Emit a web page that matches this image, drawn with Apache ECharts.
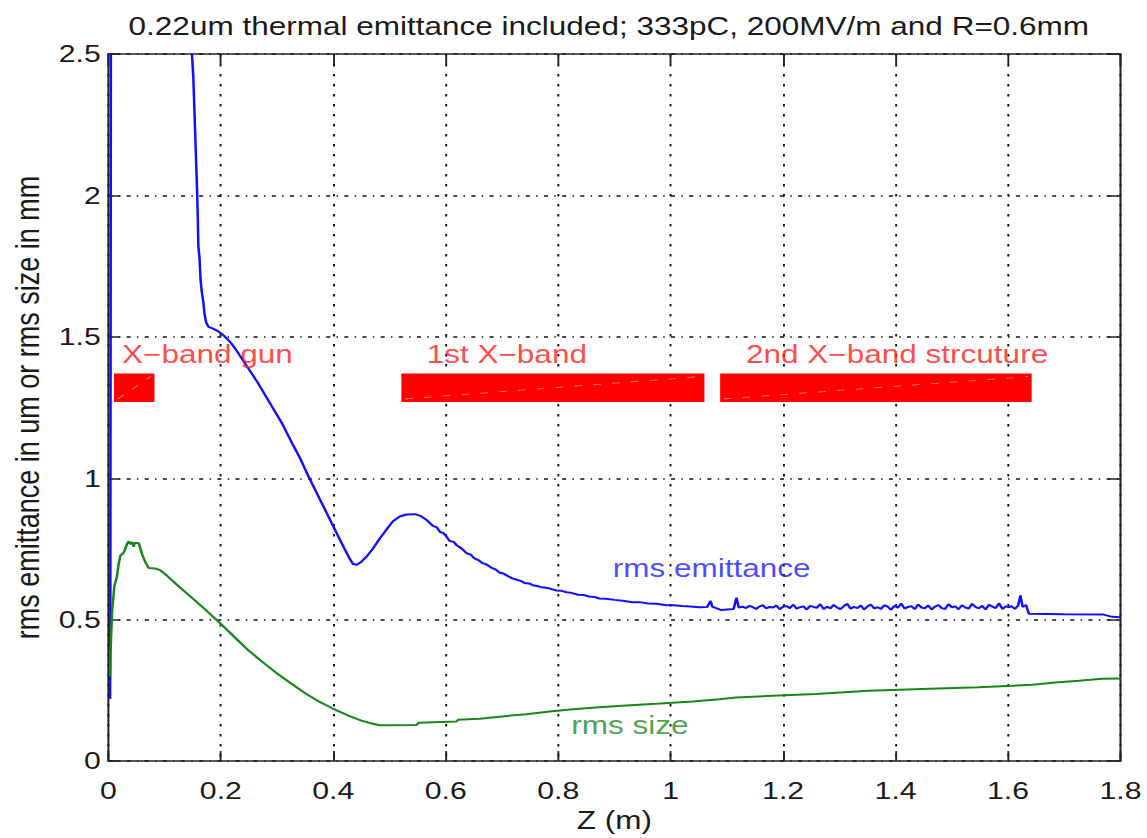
<!DOCTYPE html>
<html>
<head>
<meta charset="utf-8">
<script src="https://cdn.jsdelivr.net/npm/echarts@6/dist/echarts.min.js"></script>
<style>
  html, body { margin: 0; padding: 0; background: #fff; overflow: hidden; }
  /* the figure is laid out narrow and widened as a whole, like the printed plot */
  #chart { width: 910px; height: 838px; transform: scaleX(1.2604); transform-origin: 0 0; }
</style>
</head>
<body>
<div id="chart"></div>
<script>
// rms emittance (um) along z (m); values above 2.5 run off the top of the axes
const emitZ = [0.003, 0.0035, 0.004, 0.005, 0.04, 0.10, 0.14, 0.148, 0.151, 0.153, 0.155, 0.157, 0.158, 0.159, 0.160, 0.162, 0.164, 0.166, 0.169, 0.171, 0.174, 0.178, 0.185, 0.195, 0.205, 0.215, 0.225, 0.235, 0.245, 0.255, 0.265, 0.28, 0.295, 0.31, 0.325, 0.34, 0.355, 0.37, 0.385, 0.40, 0.41, 0.42, 0.428, 0.435, 0.442, 0.45, 0.46, 0.47, 0.482, 0.495, 0.506, 0.518, 0.53, 0.545, 0.556, 0.566, 0.577, 0.584, 0.59, 0.596, 0.60, 0.607, 0.614, 0.62, 0.628, 0.637, 0.644, 0.65, 0.658, 0.665, 0.672, 0.68, 0.688, 0.696, 0.703, 0.71, 0.718, 0.725, 0.733, 0.74, 0.748, 0.755, 0.762, 0.77, 0.778, 0.785, 0.797, 0.806, 0.815, 0.825, 0.835, 0.845, 0.855, 0.865, 0.873, 0.885, 0.90, 0.915, 0.932, 0.945, 0.96, 0.975, 0.992, 1.005, 1.02, 1.035, 1.051, 1.065, 1.071, 1.074, 1.09, 1.10, 1.112, 1.117, 1.121,
  1.128, 1.134, 1.140, 1.146, 1.152, 1.158, 1.164, 1.170, 1.176, 1.182,
  1.188, 1.194, 1.200, 1.206, 1.212, 1.218, 1.224, 1.230, 1.236, 1.242,
  1.248, 1.254, 1.260, 1.266, 1.272, 1.278, 1.284, 1.290, 1.296, 1.302,
  1.308, 1.314, 1.320, 1.326, 1.332, 1.338, 1.344, 1.350, 1.356, 1.362,
  1.368, 1.374, 1.380, 1.386, 1.392, 1.398, 1.404, 1.410, 1.416, 1.422,
  1.428, 1.434, 1.440, 1.446, 1.452, 1.458, 1.464, 1.470, 1.476, 1.482,
  1.488, 1.494, 1.500, 1.506, 1.512, 1.518, 1.524, 1.530, 1.536, 1.542,
  1.548, 1.554, 1.560, 1.566, 1.572, 1.578, 1.584, 1.590, 1.596, 1.602,
  1.606, 1.612, 1.618, 1.622, 1.626, 1.632, 1.637, 1.700, 1.770, 1.785, 1.800];
const emitV = [0.22, 0.60, 1.60, 4.00, 6.00, 4.20, 2.80, 2.52, 2.42, 2.30, 2.18, 2.06, 2.00, 1.92, 1.82, 1.78, 1.70, 1.66, 1.62, 1.58, 1.55, 1.535, 1.53, 1.52, 1.505, 1.485, 1.46, 1.43, 1.40, 1.37, 1.34, 1.29, 1.24, 1.19, 1.13, 1.075, 1.01, 0.95, 0.89, 0.83, 0.79, 0.75, 0.72, 0.697, 0.694, 0.705, 0.725, 0.75, 0.785, 0.82, 0.848, 0.865, 0.872, 0.873, 0.866, 0.852, 0.832, 0.826, 0.81, 0.806, 0.797, 0.778, 0.775, 0.762, 0.752, 0.735, 0.731, 0.718, 0.711, 0.70, 0.696, 0.685, 0.678, 0.666, 0.663, 0.655, 0.646, 0.642, 0.637, 0.63, 0.628, 0.622, 0.619, 0.615, 0.613, 0.61, 0.603, 0.602, 0.597, 0.594, 0.588, 0.587, 0.582, 0.580, 0.575, 0.574, 0.57, 0.567, 0.562, 0.562, 0.557, 0.556, 0.551, 0.551, 0.548, 0.547, 0.544, 0.545, 0.566, 0.546, 0.534, 0.536, 0.538, 0.578, 0.543,
  0.546, 0.541, 0.549, 0.544, 0.538, 0.547, 0.551, 0.540, 0.545, 0.543,
  0.550, 0.537, 0.546, 0.548, 0.541, 0.553, 0.539, 0.544, 0.547, 0.536,
  0.549, 0.545, 0.542, 0.555, 0.538, 0.546, 0.540, 0.552, 0.543, 0.537,
  0.548, 0.556, 0.539, 0.545, 0.541, 0.550, 0.536, 0.547, 0.553, 0.540,
  0.544, 0.538, 0.551, 0.546, 0.535, 0.549, 0.542, 0.557, 0.539, 0.545,
  0.548, 0.537, 0.554, 0.543, 0.540, 0.550, 0.536, 0.546, 0.552, 0.541,
  0.538, 0.555, 0.544, 0.547, 0.537, 0.551, 0.543, 0.539, 0.556, 0.545,
  0.540, 0.549, 0.536, 0.553, 0.546, 0.541, 0.558, 0.538, 0.547, 0.544,
  0.548, 0.538, 0.550, 0.586, 0.545, 0.552, 0.521, 0.519, 0.518, 0.510, 0.509];

// rms beam size (mm) along z (m)
const sizeZ = [0.003, 0.0035, 0.0066, 0.0107, 0.015, 0.0183, 0.0213, 0.0272, 0.0331, 0.036, 0.039, 0.042, 0.045, 0.047, 0.054, 0.0597, 0.0657, 0.0716, 0.083, 0.092, 0.104, 0.12, 0.14, 0.17, 0.20, 0.225, 0.25, 0.275, 0.30, 0.325, 0.35, 0.375, 0.40, 0.43, 0.45, 0.47, 0.483, 0.548, 0.552, 0.619, 0.622, 0.66, 0.70, 0.743, 0.785, 0.826, 0.873, 0.921, 0.974, 1.039, 1.086, 1.116, 1.181, 1.258, 1.353, 1.447, 1.548, 1.643, 1.684, 1.726, 1.767, 1.800];
const sizeV = [0.30, 0.37, 0.53, 0.62, 0.65, 0.697, 0.726, 0.737, 0.767, 0.778, 0.767, 0.775, 0.758, 0.772, 0.770, 0.732, 0.703, 0.683, 0.681, 0.675, 0.656, 0.627, 0.592, 0.54, 0.485, 0.437, 0.39, 0.349, 0.31, 0.274, 0.24, 0.21, 0.185, 0.158, 0.143, 0.132, 0.127, 0.128, 0.136, 0.140, 0.146, 0.150, 0.158, 0.166, 0.175, 0.183, 0.190, 0.197, 0.203, 0.211, 0.219, 0.225, 0.231, 0.237, 0.249, 0.255, 0.261, 0.270, 0.278, 0.284, 0.291, 0.292];

// accelerating sections along the beamline (z extent in m, drawn as bars)
const sectionStart = [0.01, 0.521, 1.088];
const sectionEnd = [0.082, 1.06, 1.642];
const sectionLow = [1.27, 1.27, 1.27];
const sectionHigh = [1.37, 1.37, 1.37];

// in-plot annotations, anchored at their left edge
const annoText = ['X\u2212band gun', '1st X\u2212band', '2nd X\u2212band strcuture', 'rms emittance', 'rms size'];
const annoZ = [0.0243, 0.566, 1.134, 0.897, 0.823];
const annoV = [1.438, 1.438, 1.438, 0.681, 0.126];

const titleText = '0.22um thermal emittance included; 333pC, 200MV/m and R=0.6mm';
const xName = 'Z (m)';
const yName = 'rms emittance in um or rms size in mm';

const FONT = '"Liberation Sans", Arial, Helvetica, sans-serif';
const annoColor = ['#ff1a1a', '#ff1a1a', '#ff1a1a', '#1a1aff', '#1f8a1f'];

const pairs = (xs, ys) => xs.map((x, i) => [x, ys[i]]);

const sideAxis = {
  show: true,
  axisLine: { show: true, onZero: false, lineStyle: { color: '#222', width: 1.6 } },
  axisTick: { show: true, inside: true, length: 10, lineStyle: { color: '#222', width: 1.5 } },
  axisLabel: { show: false },
  splitLine: { show: false }
};

const chart = echarts.init(document.getElementById('chart'), null, { renderer: 'svg' });
chart.setOption({
  animation: false,
  backgroundColor: '#ffffff',
  title: {
    text: titleText,
    left: 97,
    top: 9,
    textStyle: { fontFamily: FONT, fontSize: 25, fontWeight: 'normal', color: '#1a1a1a' }
  },
  grid: { left: 85.9, right: 21, top: 54, bottom: 71, containLabel: false },
  xAxis: [
    {
      type: 'value', min: 0, max: 1.8, interval: 0.2, position: 'bottom',
      name: xName, nameLocation: 'middle', nameGap: 46,
      nameTextStyle: { fontFamily: FONT, fontSize: 25, color: '#1a1a1a' },
      axisLine: { show: true, onZero: false, lineStyle: { color: '#222', width: 1.6 } },
      axisTick: { show: true, inside: true, length: 10, lineStyle: { color: '#222', width: 1.5 } },
      axisLabel: { fontFamily: FONT, fontSize: 24, color: '#1a1a1a', margin: 18 },
      splitLine: { show: true, lineStyle: { color: '#111', width: 1.5, type: [2.4, 7.6] } }
    },
    Object.assign({ type: 'value', min: 0, max: 1.8, interval: 0.2, position: 'top' }, sideAxis)
  ],
  yAxis: [
    {
      type: 'value', min: 0, max: 2.5, interval: 0.5, position: 'left',
      name: yName, nameLocation: 'middle', nameGap: 51,
      nameTextStyle: { fontFamily: FONT, fontSize: 27, color: '#1a1a1a' },
      axisLine: { show: true, onZero: false, lineStyle: { color: '#222', width: 1.6 } },
      axisTick: { show: true, inside: true, length: 9.5, lineStyle: { color: '#222', width: 1.5 } },
      axisLabel: { fontFamily: FONT, fontSize: 24, color: '#1a1a1a', margin: 6 },
      splitLine: { show: true, lineStyle: { color: '#111', width: 1.5, type: [3.2, 5, 1.2, 5] } }
    },
    Object.assign({ type: 'value', min: 0, max: 2.5, interval: 0.5, position: 'right' }, sideAxis)
  ],
  series: [
    {
      name: 'sections',
      type: 'custom',
      xAxisIndex: 0, yAxisIndex: 0,
      encode: { x: [0, 1], y: [2, 3] },
      data: sectionStart.map((s, i) => [s, sectionEnd[i], sectionLow[i], sectionHigh[i]]),
      renderItem: function (params, api) {
        const tl = api.coord([api.value(0), api.value(3)]);
        const br = api.coord([api.value(1), api.value(2)]);
        return {
          type: 'group',
          children: [
            { type: 'rect', shape: { x: tl[0], y: tl[1], width: br[0] - tl[0], height: br[1] - tl[1] },
              style: { fill: '#ff0000' } },
            { type: 'line', shape: { x1: tl[0] + 3, y1: br[1] - 3, x2: br[0] - 3, y2: tl[1] + 3 },
              style: { stroke: 'rgba(255,255,255,0.45)', lineWidth: 1, lineDash: [6, 9] } }
          ]
        };
      },
      z: 1
    },
    {
      name: 'rms emittance',
      type: 'line',
      data: pairs(emitZ, emitV),
      showSymbol: false,
      clip: true,
      lineStyle: { color: '#1010ff', width: 2 },
      z: 3
    },
    {
      name: 'rms size',
      type: 'line',
      data: pairs(sizeZ, sizeV),
      showSymbol: false,
      clip: true,
      lineStyle: { color: '#1a861a', width: 2 },
      z: 4
    },
    {
      name: 'annotations',
      type: 'scatter',
      symbolSize: 0,
      silent: true,
      data: annoText.map((t, i) => ({
        value: [annoZ[i], annoV[i]],
        name: t,
        label: { color: annoColor[i] }
      })),
      label: {
        show: true,
        position: 'right',
        distance: 0,
        formatter: p => p.name,
        fontFamily: FONT,
        fontSize: 25,
        align: 'left',
        verticalAlign: 'middle'
      },
      z: 6
    }
  ]
});
</script>
</body>
</html>
